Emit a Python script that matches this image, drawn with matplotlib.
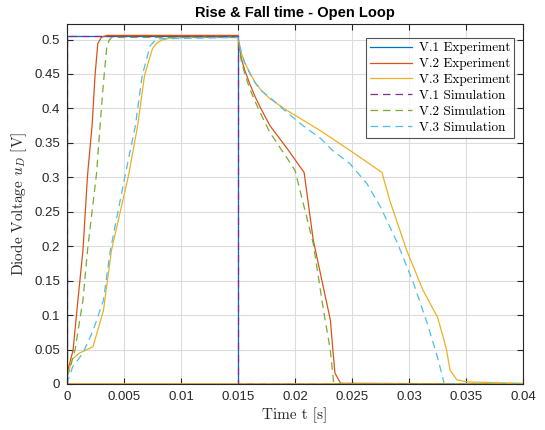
import matplotlib
matplotlib.use("Agg")
import matplotlib.pyplot as plt

plt.rcParams["mathtext.fontset"] = "cm"
plt.rcParams["axes.formatter.use_mathtext"] = False

# MATLAB default colour order
C_BLUE = "#0072BD"
C_ORANGE = "#D95319"
C_YELLOW = "#EDB120"
C_PURPLE = "#7E2F8E"
C_GREEN = "#77AC30"
C_CYAN = "#4DBEEE"

# --- measured data ---
t_exp1 = [0.0, 0.0, 0.015, 0.015, 0.04]
v_exp1 = [0.0, 0.5045, 0.5045, 0.0, 0.0]

t_exp2 = [0.04, 0.0, 0.0, 0.00053, 0.00096, 0.0014, 0.0018, 0.0022, 0.00246, 0.0027, 0.003,
          0.0035, 0.015, 0.0151, 0.0153, 0.0156, 0.016, 0.0165, 0.017, 0.0178, 0.0193,
          0.0208, 0.0216, 0.0231, 0.0233, 0.0235, 0.0240, 0.04]
v_exp2 = [0.0, 0.0, 0.015, 0.049, 0.122, 0.194, 0.303, 0.375, 0.448, 0.494, 0.503,
          0.506, 0.506, 0.49, 0.472, 0.455, 0.437, 0.417, 0.40, 0.375, 0.342,
          0.307, 0.209, 0.093, 0.054, 0.016, 0.001, 0.0]

t_exp3 = [0.04, 0.0, 0.0, 0.0002, 0.0004, 0.0011, 0.00228, 0.0032, 0.0039, 0.0054, 0.0062,
          0.0068, 0.0075, 0.0079, 0.0083, 0.009, 0.0106, 0.015, 0.0151, 0.0153, 0.0156,
          0.016, 0.0165, 0.017, 0.0178, 0.0193, 0.0207, 0.0222, 0.025, 0.02763, 0.0283,
          0.0298, 0.03123, 0.0325, 0.033, 0.0333, 0.0336, 0.0342, 0.0351, 0.04]
v_exp3 = [0.0, 0.0, 0.015, 0.02, 0.035, 0.045, 0.054, 0.107, 0.194, 0.303, 0.375,
          0.448, 0.487, 0.495, 0.499, 0.502, 0.503, 0.503, 0.495, 0.48, 0.466,
          0.453, 0.438, 0.427, 0.414, 0.397, 0.383, 0.368, 0.337, 0.307, 0.267,
          0.194, 0.136, 0.097, 0.068, 0.049, 0.020, 0.006, 0.003, 0.001]

# --- simulation data ---
t_sim1 = [0.0, 0.0, 0.015, 0.015, 0.04]
v_sim1 = [0.0, 0.505, 0.505, 0.0, 0.0]

t_sim2 = [0.0, 0.0003, 0.0007, 0.0014, 0.0018, 0.0026, 0.0029, 0.0032, 0.0035, 0.0037,
          0.0039, 0.015, 0.0151, 0.0153, 0.0156, 0.016, 0.0165, 0.017, 0.0178, 0.0193,
          0.0200, 0.0216, 0.0225, 0.0231, 0.0234, 0.04]
v_sim2 = [0.01, 0.025, 0.049, 0.122, 0.194, 0.307, 0.375, 0.438, 0.491, 0.499,
          0.503, 0.503, 0.49, 0.468, 0.45, 0.43, 0.41, 0.392, 0.365, 0.328,
          0.310, 0.204, 0.107, 0.049, 0.0, 0.0]

t_sim3 = [0.0, 0.0001, 0.0005, 0.0014, 0.0023, 0.0032, 0.0038, 0.0051, 0.006, 0.0066,
          0.0073, 0.0077, 0.008, 0.015, 0.0151, 0.0153, 0.0156, 0.016, 0.0165, 0.017,
          0.0178, 0.0193, 0.0207, 0.0222, 0.0233, 0.0248, 0.0263, 0.0275, 0.029, 0.0304,
          0.0316, 0.0325, 0.0331, 0.04]
v_sim3 = [0.0, 0.006, 0.025, 0.045, 0.078, 0.122, 0.194, 0.303, 0.375, 0.448,
          0.491, 0.498, 0.501, 0.503, 0.495, 0.48, 0.466, 0.452, 0.437, 0.426,
          0.416, 0.394, 0.375, 0.357, 0.339, 0.320, 0.291, 0.257, 0.204, 0.146,
          0.088, 0.039, 0.0, 0.0]

series = [
    (t_exp1, v_exp1, C_BLUE, "-", "V.1 Experiment"),
    (t_exp2, v_exp2, C_ORANGE, "-", "V.2 Experiment"),
    (t_exp3, v_exp3, C_YELLOW, "-", "V.3 Experiment"),
    (t_sim1, v_sim1, C_PURPLE, "--", "V.1 Simulation"),
    (t_sim2, v_sim2, C_GREEN, "--", "V.2 Simulation"),
    (t_sim3, v_sim3, C_CYAN, "--", "V.3 Simulation"),
]

fig = plt.figure(figsize=(5.45, 4.30), dpi=100)
ax = fig.add_axes([67 / 545, 1 - 384 / 430, 456 / 545, 360 / 430])

for t, v, col, ls, lab in series:
    if ls == "--":
        ax.plot(t, v, color=col, lw=0.9, dashes=(6.0, 4.0), label=lab)
    else:
        ax.plot(t, v, color=col, lw=0.9, label=lab)

ax.set_xlim(0, 0.04)
ax.set_ylim(0, 0.5225)
ax.set_xticks([0, 0.005, 0.01, 0.015, 0.02, 0.025, 0.03, 0.035, 0.04])
ax.set_xticklabels(["0", "0.005", "0.01", "0.015", "0.02", "0.025", "0.03", "0.035", "0.04"])
ax.set_yticks([0, 0.05, 0.1, 0.15, 0.2, 0.25, 0.3, 0.35, 0.4, 0.45, 0.5])
ax.set_yticklabels(["0", "0.05", "0.1", "0.15", "0.2", "0.25", "0.3", "0.35", "0.4", "0.45", "0.5"])

ax.grid(True, color="#dcdcdc", lw=0.8)
ax.set_axisbelow(True)
ax.tick_params(direction="in", length=4.5, width=0.8, top=True, right=True,
               colors="#262626", labelsize=9.5, pad=5)
for lbl in ax.get_xticklabels() + ax.get_yticklabels():
    lbl.set_fontfamily("Liberation Sans")
for sp in ax.spines.values():
    sp.set_color("#262626")
    sp.set_linewidth(0.8)

ax.set_xlabel("Time t [s]", fontfamily="cmr10", fontsize=11, color="#262626", labelpad=3)
ax.set_ylabel(r"Diode Voltage $u_D$ [V]", fontfamily="cmr10", fontsize=11,
              color="#262626", labelpad=4)
ax.set_title("Rise & Fall time - Open Loop", fontfamily="Liberation Sans",
             fontweight="bold", fontsize=10.5, color="black", pad=5)

# legend box placed in figure pixel terms: right edge ~514 px, top ~38 px
leg = ax.legend(loc="upper right", bbox_to_anchor=(514 / 545, 1 - 38 / 430),
                bbox_transform=fig.transFigure,
                prop={"family": "cmr10", "size": 9.5},
                frameon=True, fancybox=False, edgecolor="#262626",
                borderpad=0.3, labelspacing=0.28, handlelength=3.2,
                handletextpad=0.5, borderaxespad=0.0)
leg.get_frame().set_linewidth(0.8)

fig.savefig("out.png", dpi=100)
